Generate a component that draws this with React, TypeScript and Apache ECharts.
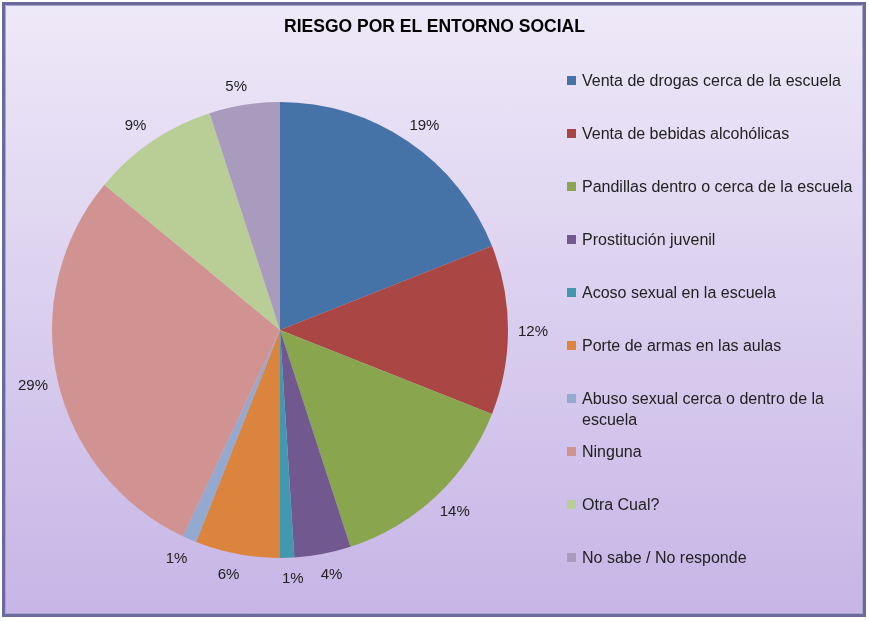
import React, { useEffect, useRef } from "react";
import * as echarts from "echarts";

const TITLE = "RIESGO POR EL ENTORNO SOCIAL";
const categories = [
  "Venta de drogas cerca de la escuela",
  "Venta de bebidas alcohólicas",
  "Pandillas dentro o cerca de la escuela",
  "Prostitución juvenil",
  "Acoso sexual en la escuela",
  "Porte de armas en las aulas",
  "Abuso sexual cerca o dentro de la escuela",
  "Ninguna",
  "Otra Cual?",
  "No sabe / No responde",
];
const values = [19, 12, 14, 4, 1, 6, 1, 29, 9, 5];
const colors = [
  "#4572a7", "#aa4643", "#89a54e", "#71588f", "#4198af",
  "#db843d", "#93a9cf", "#d19392", "#b9cd96", "#a99bbd",
];

const FONT = "'Liberation Sans', Arial, sans-serif";

export default function App() {
  const ref = useRef<HTMLDivElement>(null);
  useEffect(() => {
    const chart = echarts.init(ref.current!, null, { renderer: "svg" });
    chart.setOption({
      animation: false,
      graphic: [
        {
          type: "rect",
          z: -10,
          silent: true,
          shape: { x: 3.5, y: 3.5, width: 861, height: 612 },
          style: {
            fill: new echarts.graphic.LinearGradient(0, 0, 0, 1, [
              { offset: 0, color: "#eee9f8" },
              { offset: 1, color: "#c6b5e6" },
            ]),
            stroke: "#6a6a9e",
            lineWidth: 3,
          },
        },
        {
          type: "rect",
          z: -9,
          silent: true,
          shape: { x: 5.5, y: 5.5, width: 857, height: 608 },
          style: { fill: "none", stroke: "#a6a6cc", lineWidth: 1 },
        },
        {
          type: "text",
          left: 582,
          top: 411,
          style: { text: "escuela", fontSize: 16, fontFamily: FONT, fill: "#222" },
        },
      ],
      title: {
        text: TITLE,
        left: "center",
        top: 12,
        textStyle: { fontSize: 17.5, fontWeight: "bold", color: "#000", fontFamily: FONT },
      },
      legend: {
        orient: "vertical",
        left: 562,
        top: 67,
        itemWidth: 9,
        itemHeight: 9,
        itemGap: 36,
        icon: "rect",
        data: categories,
        formatter: (name: string) =>
          name === categories[6] ? "Abuso sexual cerca o dentro de la" : name,
        textStyle: { fontSize: 16, color: "#222", fontFamily: FONT, lineHeight: 17, padding: [0, 0, 0, 1] },
      },
      series: [
        {
          type: "pie",
          center: [280, 330],
          radius: 228,
          startAngle: 90,
          clockwise: true,
          avoidLabelOverlap: false,
          itemStyle: { borderWidth: 0 },
          color: colors,
          label: {
            show: true,
            position: "outside",
            formatter: (p: any) => `${p.value}%`,
            fontSize: 15,
            color: "#222",
            fontFamily: FONT,
          },
          labelLine: { show: false, length: 20, length2: 0 },
          labelLayout: { align: "center", verticalAlign: "middle" },
          data: categories.map((c, i) => ({ name: c, value: values[i] })),
        },
      ],
    });
    return () => chart.dispose();
  }, []);
  return (
    <div
      ref={ref}
      style={{ position: "fixed", left: 0, top: 0, width: 869, height: 621 }}
    />
  );
}
